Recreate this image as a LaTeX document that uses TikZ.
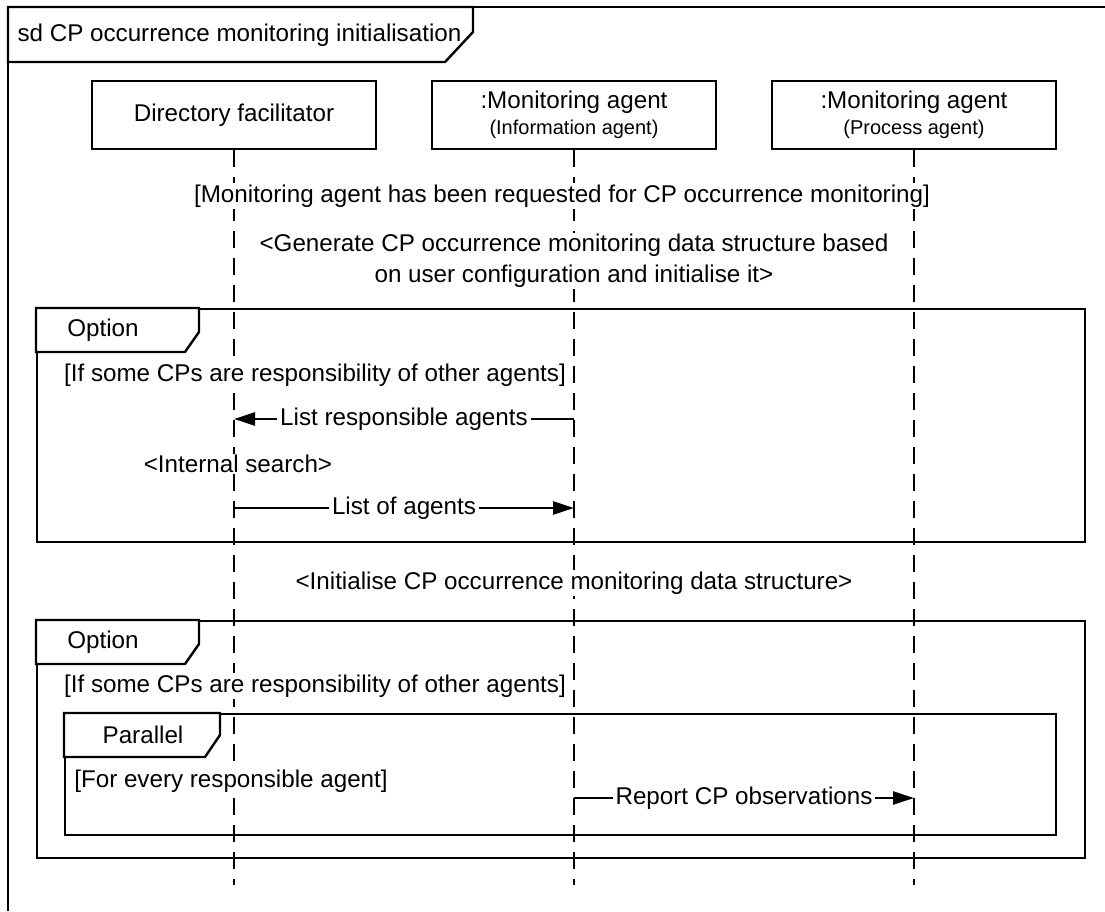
\documentclass[tikz,border=0pt]{standalone}
\usepackage{fontspec}
\setmainfont{Liberation Sans}
\usetikzlibrary{arrows.meta}

\begin{document}
\begin{tikzpicture}[x=1pt,y=-1pt,
  line join=miter,
  big/.style={font=\fontsize{24.2}{31}\selectfont},
  framebox/.style={draw, line width=2.4pt, inner sep=0pt, anchor=north west},
  framepath/.style={draw, line width=2.4pt, fill=white},
  headbox/.style={draw, line width=2.4pt, fill=white, inner sep=0pt,
    minimum width=284pt, minimum height=68pt, align=center},
  lifeline/.style={line width=2.4pt, dash pattern=on 17pt off 10pt},
  note/.style={big, fill=white, inner sep=1.5pt, align=center},
  msg/.style={line width=2.4pt, -{Triangle[length=21pt,width=13pt]}},
  msglabel/.style={big, fill=white, inner sep=3pt},
]
\useasboundingbox (0,0) rectangle (1105,911);

% ---------- lifeline heads ----------
\node[headbox, big] (df) at (234,115) {Directory facilitator};
\node[headbox] (ia) at (574,115)
  {{\fontsize{24.2}{24}\selectfont :Monitoring agent}\\[5pt]{\fontsize{20}{20}\selectfont (Information agent)}};
\node[headbox] (pa) at (914,115)
  {{\fontsize{24.2}{24}\selectfont :Monitoring agent}\\[5pt]{\fontsize{20}{20}\selectfont (Process agent)}};

% ---------- lifelines ----------
\coordinate (df-end) at (234,885);
\coordinate (ia-end) at (574,885);
\coordinate (pa-end) at (914,885);
\draw[lifeline] (df.south) -- (df-end);
\draw[lifeline] (ia.south) -- (ia-end);
\draw[lifeline] (pa.south) -- (pa-end);

% ---------- outer sd frame ----------
\draw[line width=2.4pt] (8,911) -- (8,7) -- (1105,7);
\path[framepath] (8,7) -- (473,7) -- (473,32) -- (445,62) -- (8,62) -- cycle;
\node[big, anchor=west] (sdtitle) at (14,35) {sd CP occurrence monitoring initialisation};

% ---------- first option fragment ----------
\node[framebox, minimum width=1048pt, minimum height=233pt] (opt1) at (36,308) {};
\path[framepath] (36,308) -- (199,308) -- (199,332) -- (185,352) -- (36,352) -- cycle;
\node[big] (opt1tag) at (103,330) {Option};

% ---------- second option fragment ----------
\node[framebox, minimum width=1048pt, minimum height=237pt] (opt2) at (36,620) {};
\path[framepath] (36,620) -- (199,620) -- (199,644) -- (185,664) -- (36,664) -- cycle;
\node[big] (opt2tag) at (103,642) {Option};

% ---------- parallel fragment ----------
\node[framebox, minimum width=991pt, minimum height=121pt] (par) at (64,713) {};
\path[framepath] (64,713) -- (220,713) -- (220,735) -- (205,757) -- (64,757) -- cycle;
\node[big] (partag) at (143,735) {Parallel};

% ---------- guards and notes ----------
\node[note] (guard0) at (562,196) {[Monitoring agent has been requested for CP occurrence monitoring]};
\node[note] (gen) at (574,261) {<Generate CP occurrence monitoring data structure based\\on user configuration and initialise it>};
\node[note] (guard1) at (315,375) {[If some CPs are responsibility of other agents]};
\node[note] (search) at (238,464) {<Internal search>};
\node[note] (init) at (574,583) {<Initialise CP occurrence monitoring data structure>};
\node[note] (guard2) at (315,686) {[If some CPs are responsibility of other agents]};
\node[note] (guard3) at (231,781) {[For every responsible agent]};

% ---------- messages ----------
\coordinate (m1s) at (574,419);
\coordinate (m1e) at (234,419);
\draw[msg] (m1s) -- (m1e) node[midway, msglabel] {List responsible agents};

\coordinate (m2s) at (234,508);
\coordinate (m2e) at (574,508);
\draw[msg] (m2s) -- (m2e) node[midway, msglabel] {List of agents};

\coordinate (m3s) at (574,798);
\coordinate (m3e) at (914,798);
\draw[msg] (m3s) -- (m3e) node[midway, msglabel] {Report CP observations};
\end{tikzpicture}
\end{document}
